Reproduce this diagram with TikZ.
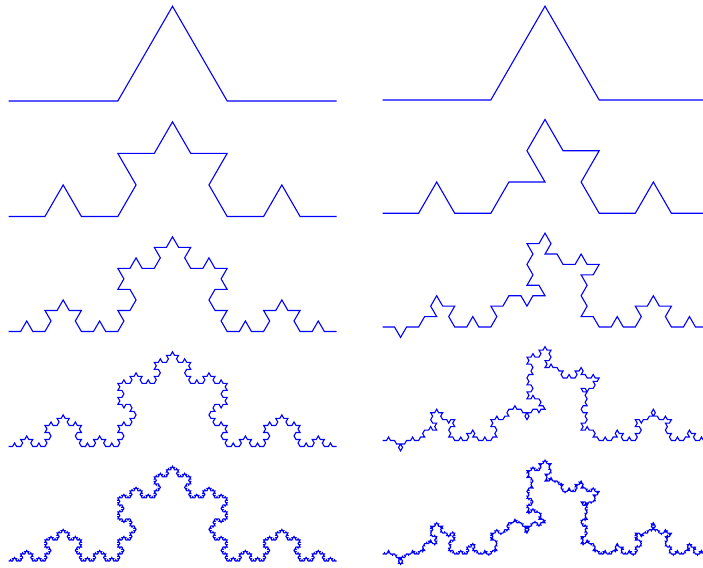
\documentclass[tikz,border=0pt]{standalone}
\usepackage{tikz}
\definecolor{kochblue}{RGB}{0,0,255}
\tikzset{kochline/.style={draw=kochblue,line width=1.1pt,line join=miter}}
\newtoks\kochtoks
\newif\ifkochrandom
% store choice bits: 1 = bump to the left of travel, 0 = bump to the right
\def\kochsetbits#1#2{\foreach \kochbv [count=\kochi] in {#2}{\expandafter\xdef\csname kochb@#1@\kochi\endcsname{\kochbv}}}
\kochsetbits{1}{1}
\kochsetbits{2}{1,0,1,1}
\kochsetbits{3}{0,0,1,1, 1,0,1,1, 0,1,0,0, 1,1,1,1}
\kochsetbits{4}{1,1,1,1, 0,1,0,1, 1,0,1,0, 1,1,0,1,
                0,1,1,0, 1,1,1,0, 1,0,1,1, 0,1,1,1,
                1,0,1,1, 1,1,0,1, 0,1,1,1, 1,0,1,0,
                1,0,1,1, 1,1,0,0, 0,1,0,1, 1,0,1,1}
\pgfmathsetseed{4711}
\foreach \kochi in {1,...,256}{\pgfmathrandominteger{\kochr}{0}{1}\expandafter\xdef\csname kochb@5@\kochi\endcsname{\kochr}}
\def\kochleaf#1{\xdef\kochtmp{\the\kochtoks --++(#1:\kochseg pt)}\global\kochtoks\expandafter{\kochtmp}}
\def\kochgetbit#1{%
  \ifkochrandom
    \expandafter\xdef\csname kochc@#1\endcsname{\the\numexpr\csname kochc@#1\endcsname+1\relax}%
    \edef\kochbit{\csname kochb@#1@\csname kochc@#1\endcsname\endcsname}%
  \else
    \def\kochbit{1}%
  \fi}
\def\kochrec#1#2#3{%
  \ifnum#1>#2\relax
    \kochleaf{#3}%
  \else
    \begingroup
      \kochgetbit{#1}%
      \ifnum\kochbit=1
        \edef\kochdb{\the\numexpr#3+60\relax}\edef\kochdc{\the\numexpr#3-60\relax}%
      \else
        \edef\kochdb{\the\numexpr#3-60\relax}\edef\kochdc{\the\numexpr#3+60\relax}%
      \fi
      \edef\kochnl{\the\numexpr#1+1\relax}%
      \edef\kochnext{%
        \noexpand\kochrec{\kochnl}{#2}{#3}%
        \noexpand\kochrec{\kochnl}{#2}{\kochdb}%
        \noexpand\kochrec{\kochnl}{#2}{\kochdc}%
        \noexpand\kochrec{\kochnl}{#2}{#3}}%
      \kochnext
    \endgroup
  \fi}
% #1 start coordinate, #2 level, #3 length, #4 random choices (1) or regular (0)
\newcommand\kochdraw[4]{%
  \global\kochtoks{}%
  \foreach \kochk in {1,...,5}{\expandafter\xdef\csname kochc@\kochk\endcsname{0}}%
  \ifnum#4=1 \kochrandomtrue\else\kochrandomfalse\fi
  \pgfmathsetmacro\kochseg{#3/(3^#2)}%
  \kochrec{1}{#2}{0}%
  \edef\kochdo{\noexpand\draw[kochline] (#1) \the\kochtoks;}%
  \kochdo}
\begin{document}
\begin{tikzpicture}[x=1pt,y=1pt]
\path[use as bounding box, fill=white] (0,0) rectangle (703,567);
\clip (0,0) rectangle (703,567);
% left column: regular Koch curve
\coordinate (L1) at (8.5,466);
\coordinate (L2) at (8.5,350.5);
\coordinate (L3) at (8.5,235.5);
\coordinate (L4) at (8.5,120.5);
\coordinate (L5) at (8.5,6);
% right column: random Koch curve
\coordinate (R1) at (382.5,467);
\coordinate (R2) at (382.5,353.7);
\coordinate (R3) at (382.5,240);
\coordinate (R4) at (382.5,126.5);
\coordinate (R5) at (382.5,13);
\kochdraw{L1}{1}{328}{0}
\kochdraw{L2}{2}{328}{0}
\kochdraw{L3}{3}{328}{0}
\kochdraw{L4}{4}{328}{0}
\kochdraw{L5}{5}{328}{0}
\kochdraw{R1}{1}{325}{1}
\kochdraw{R2}{2}{325}{1}
\kochdraw{R3}{3}{325}{1}
\kochdraw{R4}{4}{325}{1}
\kochdraw{R5}{5}{325}{1}
\end{tikzpicture}
\end{document}
